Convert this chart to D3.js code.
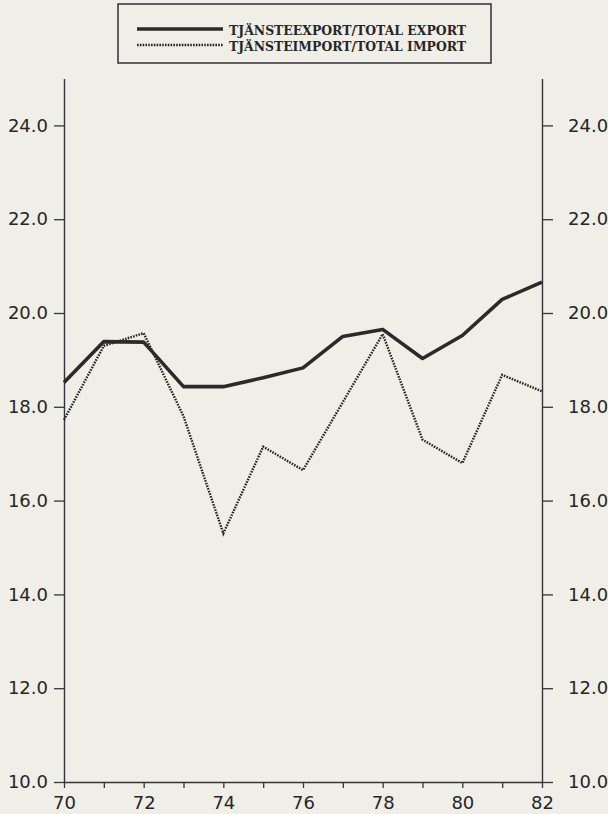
<!DOCTYPE html>
<html>
<head>
<meta charset="utf-8">
<script src="https://cdn.jsdelivr.net/npm/d3@7"></script>
<style>
  html, body { margin: 0; padding: 0; background: #efeee7; }
  svg { display: block; }
</style>
</head>
<body>
<svg id="chart" width="608" height="814"></svg>
<script>
// ---- data ----
const years = [70, 71, 72, 73, 74, 75, 76, 77, 78, 79, 80, 81, 82];
const exportShare = [18.52, 19.39, 19.38, 18.43, 18.43, 18.62, 18.83, 19.50, 19.65, 19.03, 19.52, 20.29, 20.66];
const importShare = [17.72, 19.30, 19.57, 17.80, 15.30, 17.15, 16.65, 18.10, 19.55, 17.30, 16.80, 18.68, 18.33];
const yTicks = [10, 12, 14, 16, 18, 20, 22, 24];
const xLabelYears = [70, 72, 74, 76, 78, 80, 82];
const seriesNames = ["TJÄNSTEEXPORT/TOTAL EXPORT", "TJÄNSTEIMPORT/TOTAL IMPORT"];

const svg = d3.select("#chart");
const plotLeft = 64, plotRight = 542, plotTop = 78.5, plotBottom = 782;

const x = d3.scaleLinear().domain([70, 82]).range([plotLeft, plotRight]);
const y = d3.scaleLinear().domain([10, 25]).range([plotBottom, plotTop]);

const axisColor = "#34343f";
const textColor = "#262626";
const tickFont = "'DejaVu Sans', sans-serif";

// left axis
const gL = svg.append("g").attr("transform", `translate(${plotLeft},0)`)
  .call(d3.axisLeft(y).tickValues(yTicks).tickFormat(d3.format(".1f")).tickSize(10).tickPadding(6).tickSizeOuter(0));
// right axis
const gR = svg.append("g").attr("transform", `translate(${plotRight},0)`)
  .call(d3.axisRight(y).tickValues(yTicks).tickFormat(d3.format(".1f")).tickSize(11).tickPadding(15).tickSizeOuter(0));
// bottom axis
const gB = svg.append("g").attr("transform", `translate(0,${plotBottom})`)
  .call(d3.axisBottom(x).tickValues(years).tickFormat(d => xLabelYears.includes(d) ? d : "").tickSize(6).tickPadding(8).tickSizeOuter(0));

[gL, gR, gB].forEach(g => {
  g.selectAll("path.domain").attr("stroke", axisColor).attr("stroke-width", 1.4);
  g.selectAll(".tick line").attr("stroke", axisColor).attr("stroke-width", 1.3);
  g.selectAll(".tick text").attr("fill", textColor).attr("font-family", tickFont).attr("font-size", 18);
});
gB.selectAll(".tick text").attr("dy", "0.72em");

// lines
const line = d3.line().x((d, i) => x(years[i])).y(d => y(d));
svg.append("path").datum(importShare).attr("d", line)
  .attr("fill", "none").attr("stroke", "#262626").attr("stroke-width", 2.4)
  .attr("stroke-dasharray", "1.6,1.2");
svg.append("path").datum(exportShare).attr("d", line)
  .attr("fill", "none").attr("stroke", "#2a2a2a").attr("stroke-width", 3.6)
  .attr("stroke-linejoin", "round");

// legend
const lg = svg.append("g");
lg.append("rect").attr("x", 118).attr("y", 4).attr("width", 373).attr("height", 59)
  .attr("fill", "none").attr("stroke", "#2f2f3a").attr("stroke-width", 1.5);
lg.append("line").attr("x1", 137).attr("x2", 223).attr("y1", 29).attr("y2", 29)
  .attr("stroke", "#2a2a2a").attr("stroke-width", 3.6);
lg.append("line").attr("x1", 137).attr("x2", 223).attr("y1", 45).attr("y2", 45)
  .attr("stroke", "#262626").attr("stroke-width", 2.4).attr("stroke-dasharray", "1.6,1.2");
seriesNames.forEach((s, i) => {
  lg.append("text").attr("x", 229).attr("y", 35 + i * 16)
    .attr("font-family", "'DejaVu Serif', serif").attr("font-weight", "bold")
    .attr("font-size", 13).attr("fill", textColor)
    .attr("textLength", 237).attr("lengthAdjust", "spacingAndGlyphs")
    .text(s);
});
</script>
</body>
</html>
